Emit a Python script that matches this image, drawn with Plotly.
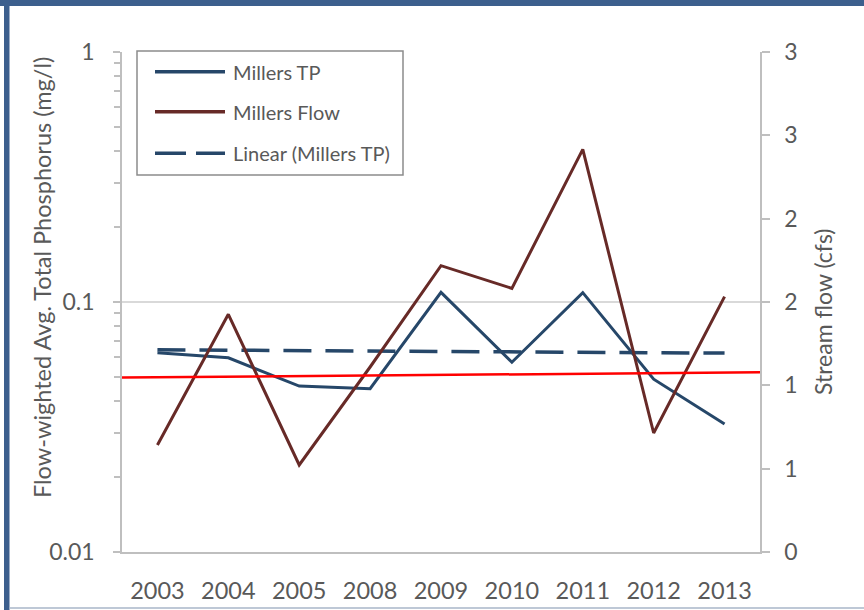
import numpy as np
import plotly.graph_objects as go

# --- data -------------------------------------------------------------
years = ["2003", "2004", "2005", "2008", "2009", "2010", "2011", "2012", "2013"]
millers_tp = [0.0627, 0.0598, 0.0461, 0.0450, 0.1093, 0.0574, 0.1090, 0.0491, 0.0325]   # mg/l
millers_flow = [0.642, 1.426, 0.522, 1.11, 1.718, 1.582, 2.416, 0.714, 1.532]          # cfs
reference_tp = [0.0499, 0.0523]          # red reference line, left and right ends (mg/l)
flow_ticks = [0, 0.5, 1, 1.5, 2, 2.5, 3]
flow_tick_text = ["0", "1", "1", "2", "2", "3", "3"]

# --- styling ----------------------------------------------------------
FONT = "Lato"
TXT = "#595959"
AXIS = "#BFBFBF"
GRID = "#D9D9D9"
TP_COLOR = "#264769"
FLOW_COLOR = "#672A27"
FRAME = "#3C5F8D"

W, H = 864, 610
L, R, T, B = 122, 104, 52, 58
PW, PH = W - L - R, H - T - B


def px(x):
    return (x - L) / PW


def py(y):
    return (H - B - y) / PH


x = np.arange(len(years))

# linear trend of the TP series (least squares, same as a spreadsheet trendline)
slope, intercept = np.polyfit(x + 1, millers_tp, 1)
tp_trend = intercept + slope * (x + 1)

fig = go.Figure()
fig.add_trace(go.Scatter(x=x, y=millers_tp, name="Millers TP", mode="lines",
                         line=dict(color=TP_COLOR, width=3), yaxis="y"))
fig.add_trace(go.Scatter(x=x, y=tp_trend, name="Linear (Millers TP)", mode="lines",
                         line=dict(color=TP_COLOR, width=3.5, dash="28px,14px"), yaxis="y"))
fig.add_trace(go.Scatter(x=x, y=millers_flow, name="Millers Flow", mode="lines",
                         line=dict(color=FLOW_COLOR, width=3), yaxis="y2"))
fig.add_trace(go.Scatter(x=[-0.5, len(years) - 0.5], y=reference_tp, name="0.05 mg/l",
                         mode="lines", line=dict(color="#FF0000", width=2.5), yaxis="y3"))

# hand-built legend box matching the spreadsheet look
legend_rows = [("Millers TP", TP_COLOR, "solid", 71.7),
               ("Millers Flow", FLOW_COLOR, "solid", 111.7),
               ("Linear (Millers TP)", TP_COLOR, "31px,10px", 153.3)]
shapes = [dict(type="rect", xref="paper", yref="paper",
               x0=px(137), x1=px(403), y0=py(175), y1=py(51),
               line=dict(color="#8C8C8C", width=1.5), fillcolor="white", layer="above")]
annotations = []
for label, color, dash, yy in legend_rows:
    shapes.append(dict(type="line", xref="paper", yref="paper",
                       x0=px(155), x1=px(225), y0=py(yy), y1=py(yy),
                       line=dict(color=color, width=3.5, dash=dash), layer="above"))
    annotations.append(dict(text=label, xref="paper", yref="paper", x=px(231), y=py(yy),
                            xanchor="left", yanchor="middle", showarrow=False,
                            font=dict(family=FONT, size=20, color=TXT)))

# axis titles
annotations += [
    dict(text="Flow-wighted Avg. Total Phosphorus (mg/l)", textangle=-90,
         xref="paper", yref="paper", x=px(42), y=py(278), xanchor="center", yanchor="middle",
         showarrow=False, font=dict(family=FONT, size=23.5, color=TXT)),
    dict(text="Stream flow (cfs)", textangle=-90,
         xref="paper", yref="paper", x=px(823), y=py(312), xanchor="center", yanchor="middle",
         showarrow=False, font=dict(family=FONT, size=23, color=TXT)),
]

# outer frame of the chart panel
shapes += [
    dict(type="rect", xref="paper", yref="paper", x0=px(0), x1=px(W), y0=py(6), y1=py(-4),
         line=dict(width=0), fillcolor=FRAME, layer="above"),
    dict(type="rect", xref="paper", yref="paper", x0=px(4), x1=px(9.5), y0=py(H + 4), y1=py(-4),
         line=dict(width=0), fillcolor=FRAME, layer="above"),
    dict(type="line", xref="paper", yref="paper", x0=px(9.5), x1=px(W), y0=py(608), y1=py(608),
         line=dict(color="#A9B6C8", width=1.5), layer="above"),
]

fig.update_layout(
    width=W, height=H, autosize=False,
    margin=dict(l=L, r=R, t=T, b=B, pad=0),
    paper_bgcolor="white", plot_bgcolor="white",
    showlegend=False,
    font=dict(family=FONT, color=TXT),
    shapes=shapes, annotations=annotations,
    xaxis=dict(range=[-0.5, len(years) - 0.5], tickvals=list(x), ticktext=years,
               showline=True, linecolor=AXIS, linewidth=1.5, ticks="", showgrid=False,
               zeroline=False, tickfont=dict(size=23.5, color=TXT), ticklabelstandoff=17,
               automargin=False),
    yaxis=dict(type="log", range=[-2, 0], dtick=1, showline=True, linecolor=AXIS, linewidth=1.5,
               ticks="outside", ticklen=7, tickcolor=AXIS, tickwidth=1.5,
               minor=dict(dtick="D1", ticks="outside", ticklen=6, tickcolor=AXIS, tickwidth=1.5,
                          showgrid=False),
               showgrid=True, gridcolor=GRID, gridwidth=1.5, zeroline=False,
               tickfont=dict(size=23, color=TXT), ticklabelstandoff=14,
               automargin=False),
    yaxis2=dict(overlaying="y", side="right", range=[0, 3], tickvals=flow_ticks,
                ticktext=flow_tick_text, showline=True, linecolor=AXIS, linewidth=1.5,
                ticks="outside", ticklen=8, tickcolor=AXIS, tickwidth=1.5, showgrid=False,
                zeroline=False, tickfont=dict(size=23, color=TXT), ticklabelstandoff=10,
                automargin=False),
    yaxis3=dict(overlaying="y", type="log", range=[-2, 0], visible=False),
)

fig.write_html("out.html")
